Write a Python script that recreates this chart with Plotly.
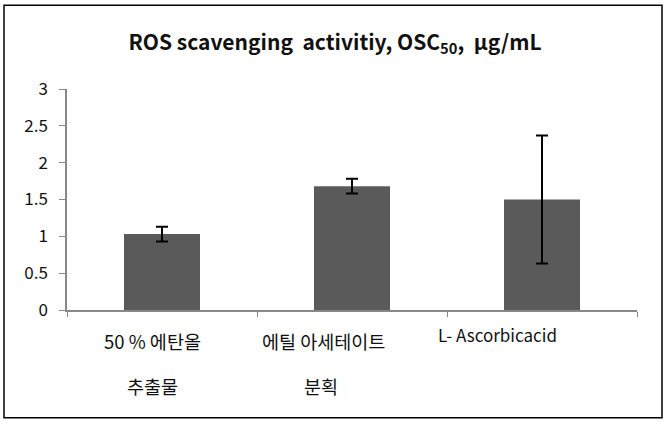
import plotly.graph_objects as go

categories = ["50 % 에탄올<br>추출물", "에틸 아세테이트<br>분획", "L- Ascorbicacid"]
line1 = ["50 % 에탄올", "에틸 아세테이트", "L- Ascorbicacid"]
line2 = ["추출물", "분획", ""]
values = [1.03, 1.68, 1.50]
errors = [0.10, 0.10, 0.87]
y_ticks = [0, 0.5, 1, 1.5, 2, 2.5, 3]
y_ticktext = ["0", "0.5", "1", "1.5", "2", "2.5", "3"]

fig = go.Figure()
fig.add_trace(go.Bar(
    x=categories, y=values,
    marker=dict(color="#5a5a5a", line=dict(width=0)),
    error_y=dict(type="data", array=errors, visible=True, color="black", thickness=2, width=6),
))

font_main = "Noto Sans CJK KR, Noto Sans, sans-serif"
annots = []
shifts1 = [-9.5, -29, -45]
shifts2 = [-10, -31.5, 0]
sizes1 = [18.5, 18.5, 17]
ys1 = [-0.142, -0.142, -0.113]
for c, t1, t2, s1, s2, fs, y1 in zip(categories, line1, line2, shifts1, shifts2, sizes1, ys1):
    annots.append(dict(x=c, y=y1, xref="x", yref="paper", yanchor="middle", text=t1,
                       showarrow=False, xshift=s1,
                       font=dict(size=fs, color="#111111", family=font_main)))
    if t2:
        annots.append(dict(x=c, y=-0.345, xref="x", yref="paper", yanchor="middle", text=t2,
                           showarrow=False, xshift=s2,
                           font=dict(size=18.5, color="#111111", family=font_main)))

fig.update_layout(
    width=670, height=424,
    margin=dict(l=67, r=33, t=89, b=113.5),
    paper_bgcolor="white", plot_bgcolor="white",
    showlegend=False,
    bargap=0.6,
    title=dict(text="<b>ROS scavenging  activitiy, OSC<sub>50</sub>,  μg/mL</b>",
               x=0.5, xref="container", xanchor="center", y=0.9, yanchor="middle",
               font=dict(size=21, color="#111111", family=font_main)),
    xaxis=dict(showticklabels=False, showline=True, linecolor="#888888", linewidth=1.5,
               ticks="outside", tickson="boundaries", ticklen=5, tickcolor="#888888",
               showgrid=False, zeroline=False),
    yaxis=dict(range=[0, 3], tickvals=y_ticks, ticktext=y_ticktext, showline=True,
               linecolor="#888888", linewidth=1.5, ticks="outside", ticklen=6,
               tickcolor="#888888", showgrid=False, zeroline=False,
               ticklabelstandoff=8,
               tickfont=dict(size=17, color="#111111", family=font_main)),
    annotations=annots,
    shapes=[dict(type="rect", xref="paper", yref="paper",
                 x0=-0.1105, x1=1.0439, y0=-0.4876, y1=1.379,
                 line=dict(color="black", width=1.5))],
)

fig.write_html("out.html")
